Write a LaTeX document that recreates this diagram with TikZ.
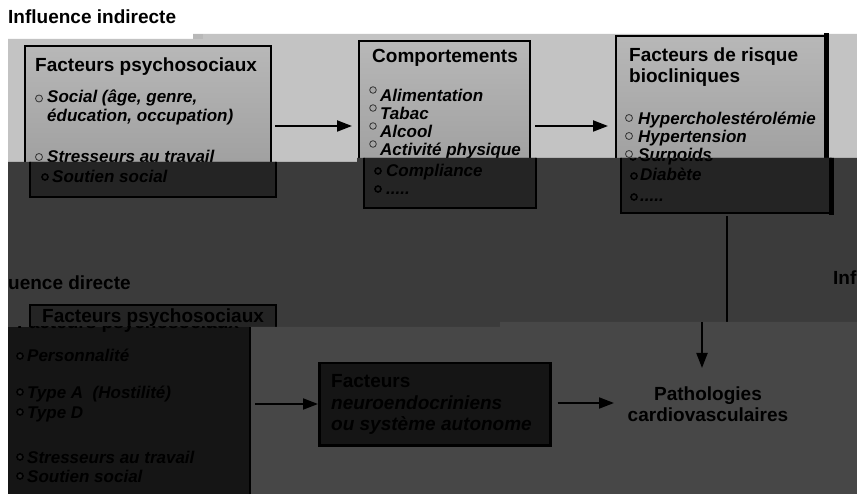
\documentclass[tikz,border=0pt]{standalone}
\usepackage{fontspec}
\setmainfont{Liberation Sans}
\usetikzlibrary{arrows.meta}
\definecolor{bandlight}{HTML}{C3C3C3}
\definecolor{boxlight}{HTML}{AAAAAA}
\definecolor{banddark}{HTML}{3B3B3B}
\definecolor{boxdark}{HTML}{242424}
\definecolor{blockdark}{HTML}{151515}
\definecolor{lowright}{HTML}{474747}
\tikzset{
  titletxt/.style={anchor=base west,inner sep=0pt,font=\fontsize{19}{22}\selectfont\bfseries},
  itemtxt/.style={anchor=base west,inner sep=0pt,font=\fontsize{17}{20}\selectfont\bfseries\itshape},
  bulup/.style={draw=black!80,fill=black!35,line width=0.8pt},
  buldn/.style={draw=black,fill=boxdark,line width=1.6pt},
  upbox/.style={draw=black,line width=2.5pt,top color=black!28,bottom color=black!38},
  dnbox/.style={draw=black,line width=2.5pt,fill=boxdark},
  conn/.style={line width=2pt,-{Triangle[length=15pt,width=11pt]}},
  plain/.style={line width=2pt}
}
\begin{document}
\begin{tikzpicture}[x=1pt,y=-1pt]
\useasboundingbox (0,0) rectangle (857,494);
\fill[white] (0,0) rectangle (857,494);
\node[titletxt] (titleind) at (8,24) {Influence indirecte};
% light band
\fill[bandlight] (8,39) -- (193,39) -- (193,34) -- (857,34) -- (857,170) -- (8,170) -- cycle;
\fill[black!28] (193,34) rectangle (203,39);
% upper boxes
\draw[upbox] (25,46) rectangle (271,175);
\draw[upbox] (359,41) rectangle (530,175);
\draw[upbox] (616,36) rectangle (826,175);
\draw[black,line width=5pt] (826,33.5) -- (826,175);
% box 1 text
\node[titletxt] (t1) at (35,72) {Facteurs psychosociaux};
\draw[bulup] (39,98.5) circle (3.5);
\node[itemtxt] (i11) at (47,103) {Social (âge, genre,};
\node[itemtxt] (i12) at (47,122) {éducation, occupation)};
\draw[bulup] (39,157) circle (3.5);
\node[itemtxt] (i13) at (47,163) {Stresseurs au travail};
% box 2 text
\node[titletxt] (t2) at (372,63) {Comportements};
\foreach \yy/\tt in {102/Alimentation,120/Tabac,138/Alcool,156/Activité physique}{
  \draw[bulup] (373,\yy-12) circle (3.3);
  \node[itemtxt] at (380,\yy) {\tt};
}
% box 3 text
\node[titletxt] (t3) at (629,62) {Facteurs de risque};
\node[titletxt] (t3b) at (629,83) {biocliniques};
\foreach \yy/\tt in {125/Hypercholestérolémie,143/Hypertension,161/Surpoids}{
  \draw[bulup] (629,\yy-7) circle (3.5);
  \node[itemtxt] at (638,\yy) {\tt};
}
% arrows upper
\coordinate (a1s) at (275,126);
\coordinate (a1e) at (352,126);
\draw[conn] (a1s) -- (a1e);
\coordinate (a2s) at (535,126);
\coordinate (a2e) at (608,126);
\draw[conn] (a2s) -- (a2e);
% dark band
\fill[banddark] (8,162) -- (357,162) -- (357,158) -- (857,158) -- (857,330) -- (8,330) -- cycle;
\begin{scope}
\clip (8,162) -- (357,162) -- (357,158) -- (857,158) -- (857,330) -- (8,330) -- cycle;
\draw[dnbox] (30,140) rectangle (276,197);
\draw[dnbox] (364,140) rectangle (536,208);
\draw[dnbox] (621,140) rectangle (831,213);
\draw[black,line width=5pt] (831,140) -- (831,215.5);
\draw[buldn] (45,177) circle (3);
\node[itemtxt] (s1) at (52,183) {Soutien social};
\draw[buldn] (378,171) circle (3);
\node[itemtxt] (c2) at (386,177) {Compliance};
\draw[buldn] (378,189) circle (3);
\node[itemtxt] (c3) at (386,195) {.....};
\draw[buldn] (633,157) circle (3);
\node[itemtxt] (r3) at (640,162) {Surpoids};
\draw[buldn] (634,176) circle (3);
\node[itemtxt] (r4) at (640,181) {Diabète};
\draw[buldn] (634,197) circle (3);
\node[itemtxt] (r5) at (640,202) {.....};
\end{scope}
% vertical connector (upper part)
\coordinate (v1) at (727,216);
\coordinate (v2) at (727,322);
\draw[plain] (v1) -- (v2);
% "Influence directe" wrapped
\node[titletxt] (dir1) at (8,290) {uence directe};
\node[titletxt] (dir2) at (833,285) {Inf};
% lower header strip of psychosocial box
\draw[dnbox] (30,305) rectangle (276,335);
\begin{scope}
\clip (8,300) rectangle (300,327);
\node[titletxt] (h1) at (42,323) {Facteurs psychosociaux};
\end{scope}
% lower right region
\fill[lowright] (250,327) -- (500,327) -- (500,322) -- (857,322) -- (857,494) -- (250,494) -- cycle;
% lower left block
\fill[blockdark] (8,327) rectangle (250,494);
\draw[black,line width=2.5pt] (250,327) -- (250,494);
\begin{scope}
\clip (8,327) rectangle (250,494);
\node[titletxt] (h2) at (17,329) {Facteurs psychosociaux};
\end{scope}
\foreach \yy/\tt in {362/Personnalité,398/Type A\ \ (Hostilité),418/Type D,463/Stresseurs au travail,482/Soutien social}{
  \draw[buldn] (20,\yy-6) circle (3);
  \node[itemtxt] at (27,\yy) {\tt};
}
% vertical connector (lower part)
\coordinate (v3) at (702,322);
\coordinate (v4) at (702,368);
\draw[conn] (v3) -- (v4);
% neuro box
\node[draw=black,line width=2.5pt,fill=blockdark,minimum width=231pt,minimum height=82pt,anchor=north west] (neuro) at (318,362) {};
\node[titletxt] (n1) at (331,388) {Facteurs};
\node[titletxt,font=\fontsize{19}{22}\selectfont\bfseries\itshape] (n2) at (331,409) {neuroendocriniens};
\node[titletxt,font=\fontsize{19}{22}\selectfont\bfseries\itshape] (n3) at (331,430) {ou système autonome};
% pathologies
\node[align=center,inner sep=0pt,font=\fontsize{19}{21}\selectfont\bfseries] (patho) at (708,404) {Pathologies\\cardiovasculaires};
% lower arrows
\coordinate (b1s) at (255,404);
\draw[conn] (b1s) -- (neuro.west |- b1s);
\coordinate (b2e) at (614,403);
\draw[conn] (neuro.east |- b2e) ++(6,0) -- (b2e);
\end{tikzpicture}
\end{document}
